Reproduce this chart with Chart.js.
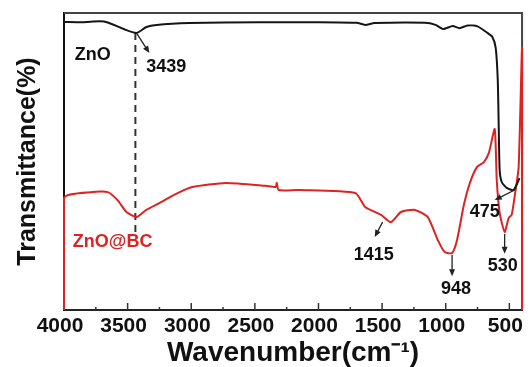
<!DOCTYPE html>
<html>
<head>
<meta charset="utf-8">
<script src="https://cdn.jsdelivr.net/npm/chart.js@4.4.1/dist/chart.umd.min.js"></script>
<style>
    html, body { margin: 0; padding: 0; background: #fff; }
    #wrap { width: 531px; height: 367px; }
</style>
</head>
<body>
<div id="wrap"><canvas id="ftirChart"></canvas></div>
<script>
// -------------------------------------------------------------------------- Data

// ZnO spectrum (wavenumber cm-1, transmittance a.u.)
const znoWave = [4000, 3850, 3720, 3656, 3531, 3430, 3352, 3273, 3016, 2469, 2000, 1700, 1633, 1560,
    1164, 1080, 1023, 945, 891, 828, 750, 672, 633, 607, 591, 583, 576, 560, 521, 466, 420]
const znoT = [97.0, 96.9, 97.2, 96.8, 94.6, 93.3, 95.3, 96.0, 96.6, 96.9, 96.9, 96.7, 96.0, 96.6,
    96.7, 96.0, 94.6, 95.6, 94.9, 95.8, 95.5, 93.3, 91.9, 88.2, 77.4, 60.6, 47.1, 43.1, 41.1, 40.4, 44.4]

// ZnO@BC spectrum
const bcWave = [4000, 4000, 3773, 3656, 3579, 3509, 3430, 3353, 3250, 3119, 2992, 2727, 2414, 2336, 2328,
    2313, 2156, 1711, 1633, 1508, 1430, 1352, 1242, 1141, 1063, 1008, 950, 911, 856, 810, 755, 700, 661,
    615, 599, 576, 537, 505, 482, 459, 427, 400, 400]
const bcT = [0, 37.7, 39.7, 39.7, 37.0, 33.0, 31.3, 33.7, 36.0, 39.1, 41.4, 42.8, 41.8, 41.4, 42.8,
    40.4, 40.4, 39.4, 34.7, 32.0, 29.6, 33.0, 33.7, 31.3, 23.6, 19.5, 19.2, 23.6, 35.7, 42.8, 48.1, 49.8, 52.9,
    60.9, 43.8, 32.7, 26.3, 31.0, 32.0, 38.0, 48.1, 88.2, 0]

// dashed marker at the O-H band
const markerWave = [3439, 3439]
const markerT = [93.3, 26.0]

const xTicks = [4000, 3500, 3000, 2500, 2000, 1500, 1000, 500]
const minorTicks = [3750, 3250, 2750, 2250, 1750, 1250, 750]

// peak labels: text, label anchor, arrow start -> arrow end (data units)
const notes = [
    { text: 'ZnO', color: '#111', at: [3774, 85.9] },
    { text: '3439', color: '#111', at: [3197, 81.8], from: [3431, 93.3], to: [3329, 86.5] },
    { text: 'ZnO@BC', color: '#dd2222', at: [3618, 22.9] },
    { text: '1415', color: '#111', at: [1566, 18.5], from: [1496, 29.6], to: [1558, 24.6] },
    { text: '948', color: '#111', at: [919, 7.1], from: [950, 18.5], to: [950, 11.4] },
    { text: '530', color: '#111', at: [552, 14.8], from: [537, 25.6], to: [537, 18.9] },
    { text: '475', color: '#111', at: [693, 33.0], from: [459, 40.4], to: [615, 37.0] }
]

const font = 'Arial, "Liberation Sans", sans-serif'
const black = '#151515'
const red = '#dd2222'

function pairs(xs, ys) {
    return xs.map((x, i) => ({ x: x, y: ys[i] }))
}

// -------------------------------------------------------------------------- Frame, inner ticks, notes

const framePlugin = {
    id: 'frame',
    beforeDatasetsDraw(chart) {
        const { ctx, chartArea: a, scales: { x } } = chart
        ctx.save()
        ctx.strokeStyle = '#444'
        ctx.lineWidth = 2
        ctx.beginPath()
        ctx.moveTo(a.left, a.top)
        ctx.lineTo(a.right, a.top)
        ctx.lineTo(a.right, a.bottom)
        ctx.stroke()

        ctx.strokeStyle = '#333'
        ctx.lineWidth = 1.5
        xTicks.slice(1).forEach(v => {
            const px = x.getPixelForValue(v)
            ctx.beginPath()
            ctx.moveTo(px, a.bottom)
            ctx.lineTo(px, a.bottom - 7)
            ctx.stroke()
        })
        minorTicks.forEach(v => {
            const px = x.getPixelForValue(v)
            ctx.beginPath()
            ctx.moveTo(px, a.bottom)
            ctx.lineTo(px, a.bottom - 3)
            ctx.stroke()
        })
        ctx.restore()
    },
    afterDatasetsDraw(chart) {
        const { ctx, scales: { x, y } } = chart
        ctx.save()
        notes.forEach(n => {
            if (n.from) {
                const x1 = x.getPixelForValue(n.from[0]), y1 = y.getPixelForValue(n.from[1])
                const x2 = x.getPixelForValue(n.to[0]), y2 = y.getPixelForValue(n.to[1])
                const ang = Math.atan2(y2 - y1, x2 - x1)
                ctx.strokeStyle = '#222'
                ctx.fillStyle = '#222'
                ctx.lineWidth = 1.3
                ctx.beginPath()
                ctx.moveTo(x1, y1)
                ctx.lineTo(x2 - 5 * Math.cos(ang), y2 - 5 * Math.sin(ang))
                ctx.stroke()
                ctx.beginPath()
                ctx.moveTo(x2, y2)
                ctx.lineTo(x2 - 7 * Math.cos(ang) + 3 * Math.sin(ang), y2 - 7 * Math.sin(ang) - 3 * Math.cos(ang))
                ctx.lineTo(x2 - 7 * Math.cos(ang) - 3 * Math.sin(ang), y2 - 7 * Math.sin(ang) + 3 * Math.cos(ang))
                ctx.closePath()
                ctx.fill()
            }
            ctx.fillStyle = n.color
            ctx.font = 'bold 18px ' + font
            ctx.textAlign = 'center'
            ctx.textBaseline = 'middle'
            ctx.fillText(n.text, x.getPixelForValue(n.at[0]), y.getPixelForValue(n.at[1]))
        })
        ctx.restore()
    }
}

// -------------------------------------------------------------------------- Chart Config

const configFtir = {
    type: 'line',
    data: {
        datasets: [{
            label: 'ZnO',
            data: pairs(znoWave, znoT),
            borderColor: black,
            borderWidth: 2,
            pointRadius: 0,
            tension: 0.2,
            clip: 2
        }, {
            label: 'ZnO@BC',
            data: pairs(bcWave, bcT),
            borderColor: red,
            borderWidth: 2,
            pointRadius: 0,
            tension: 0.2,
            clip: 2
        }, {
            label: '3439',
            data: pairs(markerWave, markerT),
            borderColor: '#333',
            borderWidth: 2,
            borderDash: [7, 5],
            pointRadius: 0
        }]
    },
    options: {
        responsive: true,
        maintainAspectRatio: false,
        animation: false,
        layout: { padding: { top: 13, right: 5, left: 0, bottom: 0 } },
        plugins: {
            legend: { display: false },
            tooltip: { enabled: false }
        },
        scales: {
            x: {
                type: 'linear',
                reverse: true,
                min: 400,
                max: 4000,
                afterBuildTicks: s => { s.ticks = xTicks.map(v => ({ value: v })) },
                afterFit: s => { s.height = 57 },
                grid: { display: false, drawTicks: false },
                border: { display: true, color: '#222', width: 2 },
                ticks: {
                    autoSkip: false,
                    maxRotation: 0,
                    padding: 4,
                    labelOffset: -4,
                    color: '#111',
                    font: { family: font, size: 21, weight: 'bold' },
                    callback: v => String(v)
                },
                title: {
                    display: true,
                    text: 'Wavenumber(cm\u207B\u00B9)',
                    color: '#111',
                    padding: 0,
                    font: { family: font, size: 28, weight: 'bold', lineHeight: 1 }
                }
            },
            y: {
                min: 0,
                max: 100,
                afterFit: s => { s.width = 64 },
                grid: { display: false, drawTicks: false },
                border: { display: true, color: '#111', width: 2 },
                ticks: { display: false },
                title: {
                    display: true,
                    text: 'Transmittance(%)',
                    color: '#111',
                    padding: { top: 16, bottom: 0 },
                    font: { family: font, size: 25, weight: 'bold', lineHeight: 1 }
                }
            }
        }
    },
    plugins: [framePlugin]
}

// -------------------------------------------------------------------------- Render Chart
let ftirChart = new Chart(
    document.getElementById('ftirChart'),
    configFtir
)
</script>
</body>
</html>
